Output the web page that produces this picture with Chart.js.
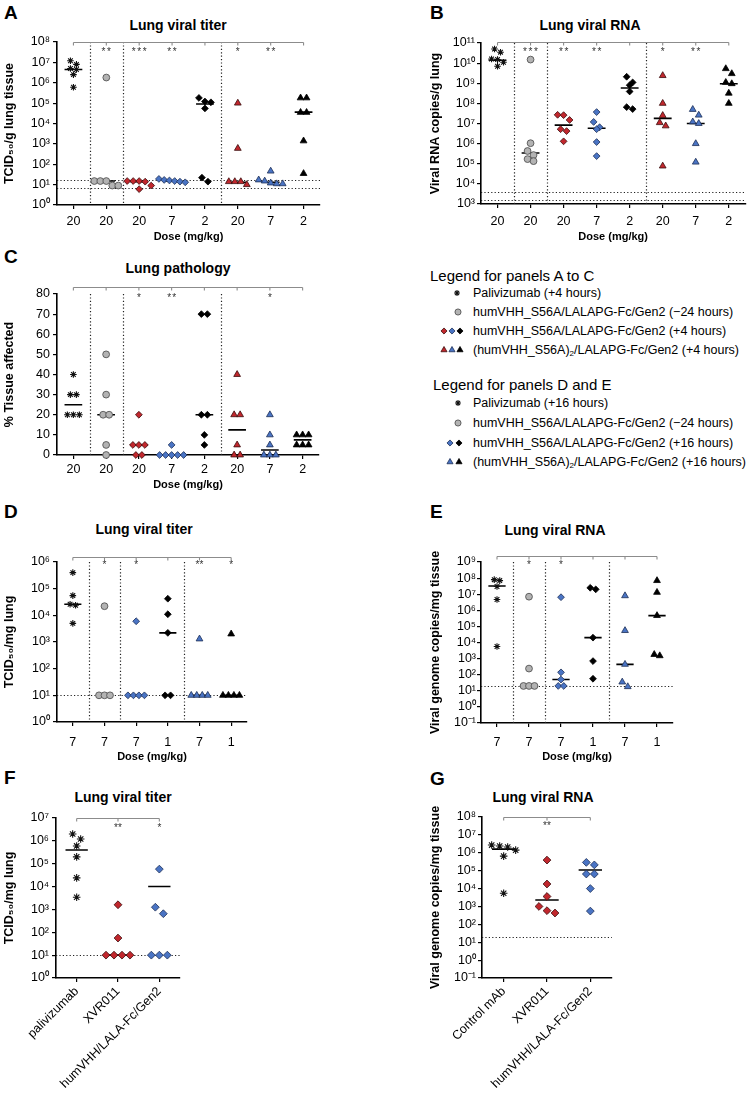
<!DOCTYPE html>
<html>
<head>
<meta charset="utf-8">
<script src="https://cdn.jsdelivr.net/npm/chart.js@4.4.1/dist/chart.umd.min.js"></script>
<style>
body{margin:0;background:#fff;width:750px;height:1093px;position:relative;overflow:hidden;font-family:"Liberation Sans",Arial,sans-serif;color:#000}
canvas{position:absolute}
.t{position:absolute;line-height:1;white-space:nowrap;transform:translateY(-50%)}
.c{transform:translate(-50%,-50%)}
.letter{font-weight:bold;font-size:19px}
.title{font-weight:bold;font-size:14px}
.lh{font-size:15px}
.lg{font-size:12.5px}
sub{font-size:8px;line-height:0;vertical-align:-2px}
#lgd{position:absolute;left:0;top:0}
</style>
</head>
<body>
<div class="t letter" style="left:4px;top:12px">A</div>
<div class="t letter" style="left:430px;top:12px">B</div>
<div class="t letter" style="left:4px;top:256px">C</div>
<div class="t letter" style="left:4px;top:511px">D</div>
<div class="t letter" style="left:430px;top:511px">E</div>
<div class="t letter" style="left:4px;top:777px">F</div>
<div class="t letter" style="left:430px;top:778px">G</div>

<div class="t title c" style="left:178px;top:25px">Lung viral titer</div>
<div class="t title c" style="left:590px;top:25px">Lung viral RNA</div>
<div class="t title c" style="left:178px;top:268px">Lung pathology</div>
<div class="t title c" style="left:144px;top:529px">Lung viral titer</div>
<div class="t title c" style="left:555px;top:530px">Lung viral RNA</div>
<div class="t title c" style="left:123px;top:797px">Lung viral titer</div>
<div class="t title c" style="left:543px;top:797px">Lung viral RNA</div>

<div class="t lh" style="left:430px;top:275px">Legend for panels A to C</div>
<div class="t lg" style="left:473px;top:293px">Palivizumab (+4 hours)</div>
<div class="t lg" style="left:473px;top:312px">humVHH_S56A/LALAPG-Fc/Gen2 (−24 hours)</div>
<div class="t lg" style="left:473px;top:331px">humVHH_S56A/LALAPG-Fc/Gen2 (+4 hours)</div>
<div class="t lg" style="left:473px;top:350px">(humVHH_S56A)<sub>2</sub>/LALAPG-Fc/Gen2 (+4 hours)</div>
<div class="t lh" style="left:433px;top:384px">Legend for panels D and E</div>
<div class="t lg" style="left:473px;top:403px">Palivizumab (+16 hours)</div>
<div class="t lg" style="left:473px;top:423px">humVHH_S56A/LALAPG-Fc/Gen2 (−24 hours)</div>
<div class="t lg" style="left:473px;top:443px">humVHH_S56A/LALAPG-Fc/Gen2 (+16 hours)</div>
<div class="t lg" style="left:473px;top:462px">(humVHH_S56A)<sub>2</sub>/LALAPG-Fc/Gen2 (+16 hours)</div>
<svg id="lgd" width="750" height="500"></svg>

<script>
// ---- categories / tick labels
const DOSES_AC = ["20","20","20","7","2","20","7","2"];
const DOSES_DE = ["7","7","7","1","7","1"];
const GROUPS_F = ["palivizumab","XVR011","humVHH/LALA-Fc/Gen2"];
const GROUPS_G = ["Control mAb","XVR011","humVHH/LALA-Fc/Gen2"];

// marker kind per group
const MARKERS_AC = ["pali","pre","dRed","dBlue","dBlack","tRed","tBlue","tBlack"];
const MARKERS_DE = ["pali","pre","dBlue","dBlack","tBlue","tBlack"];
const MARKERS_FG = ["pali","dRed","dBlue"];

// ---- A: lung viral titer (TCID50/g)
const A_values = [
  [1.2e7, 8e6, 5e6, 4.5e6, 2.5e6, 6e5],
  [1.8e6, 15, 15, 15, 9, 9],
  [15, 15, 15, 14, 9, 6],
  [19, 17, 16, 15, 14, 13],
  [1.8e5, 1.2e5, 1.1e5, 5.5e4, 22, 14],
  [1e5, 600, 14, 14, 14, 10],
  [46, 17, 15, 12, 11, 11],
  [1.8e5, 1.8e5, 3.5e4, 3.5e4, 1.4e3, 35]
];
const A_medians = [4.5e6, 15, 14, 15, 9e4, 13, 13, 3.6e4];
const A_stars = ["", "**", "***", "**", "", "*", "**", ""];
const A_lod = [17, 7];
const A_breaks = [0, 1, 4];

// ---- B: lung viral RNA (copies/g)
const B_values = [
  [5e10, 3.5e10, 1.6e10, 1.5e10, 1.1e10, 7e9],
  [1.5e10, 1.05e6, 4.3e5, 2.7e5, 1.7e5, 1.35e5],
  [2.7e7, 2.6e7, 1.5e7, 5.2e6, 4.2e6, 1.3e6],
  [3.7e7, 1.2e7, 6.5e6, 5.2e6, 1.2e6, 2.4e5],
  [2.1e9, 1.1e9, 8e8, 3.9e8, 6.5e7, 5.2e7],
  [2.4e9, 1e8, 2.5e7, 1.1e7, 7.6e6, 7.7e4],
  [5e7, 2.6e7, 1.2e7, 1e7, 1e6, 1.2e5],
  [5.3e9, 3e9, 1.1e9, 9.5e8, 3.2e8, 1e8]
];
const B_medians = [1.4e10, 3.4e5, 8.3e6, 5.8e6, 5.8e8, 1.8e7, 1e7, 9.4e8];
const B_stars = ["", "***", "**", "**", "", "*", "**", ""];
const B_lod = [4.1e3, 1.6e3];
const B_breaks = [0, 1, 4];

// ---- C: lung pathology (% tissue affected)
const C_values = [
  [40, 30, 30, 20, 20, 20],
  [50, 30, 20, 20, 5, 0],
  [20, 5, 5, 5, 0, 0],
  [5, 0, 0, 0, 0, 0],
  [70, 70, 20, 20, 10, 5],
  [40, 20, 20, 5, 0, 0],
  [20, 10, 5, 0, 0, 0],
  [10, 10, 10, 5, 5, 5]
];
const C_medians = [25, 20, 5, 0, 20, 12.5, 2.5, 7.5];
const C_stars = ["", "", "*", "**", "", "", "*", ""];
const C_lod = [];
const C_breaks = [0, 1, 4];

// ---- D: lung viral titer (TCID50/mg)
const D_values = [
  [4e5, 5.5e4, 2.6e4, 2.4e4, 5e3],
  [2.2e4, 10, 10, 10],
  [6e3, 10, 10, 10, 10],
  [4.2e4, 1.1e4, 2.2e3, 10, 10],
  [1.3e3, 10, 10, 10, 10],
  [2e3, 10, 10, 10, 10]
];
const D_medians = [2.6e4, 10, 10, 2.2e3, 10, 10];
const D_stars = ["", "*", "*", "", "**", "*"];
const D_lod = [10];
const D_breaks = [0, 1, 3];

// ---- E: lung viral RNA (copies/mg)
const E_values = [
  [8e7, 7e7, 3e7, 4.7e6, 5.6e3],
  [7e6, 240, 20, 20, 20],
  [6.5e6, 140, 50, 20, 20],
  [2.5e7, 2e7, 2e4, 700, 56],
  [8e6, 5.5e4, 440, 35, 18],
  [7e7, 1.3e7, 4.7e5, 1.8e3, 1.5e3]
];
const E_medians = [3.2e7, 20, 50, 2e4, 440, 4.7e5];
const E_stars = ["", "*", "*", "", "", ""];
const E_lod = [20];
const E_breaks = [0, 1, 3];

// ---- F: lung viral titer
const F_values = [
  [2e6, 1.2e6, 6e5, 2e5, 2.4e4, 3.4e3],
  [1.6e3, 56, 10, 10, 10, 10],
  [5.8e4, 1.25e3, 650, 10, 10, 10]
];
const F_medians = [4e5, 10, 1e4];
const F_stars = ["", "**", "*"];
const F_lod = [10];

// ---- G: lung viral RNA
const G_values = [
  [2.7e6, 2.4e6, 2.1e6, 1.4e6, 6.5e5, 5.5e3],
  [3.9e5, 1.8e4, 3.6e3, 1e3, 580, 430],
  [2.9e5, 2.1e5, 6.5e4, 6.5e4, 1e4, 550]
];
const G_medians = [1.6e6, 2.3e3, 1.1e5];
const G_stars = ["", "**", ""];
const G_lod = [20];

// ---- styles
const RED = "#c1272d", BLUE = "#4a74c4", BLACK = "#000", GREY = "#b3b3b3";
const STYLE = {
  pali:   {shape:"star",     r:3.3, fill:BLACK, line:"#111",    bw:1.1},
  pre:    {shape:"circle",   r:3.4, fill:GREY,  line:"#555",    bw:0.9},
  dRed:   {shape:"rectRot",  r:3.4, fill:RED,   line:"#3a0d0d", bw:0.8},
  dBlue:  {shape:"rectRot",  r:3.4, fill:BLUE,  line:"#1d2f55", bw:0.8},
  dBlack: {shape:"rectRot",  r:3.4, fill:BLACK, line:BLACK,     bw:0.8},
  tRed:   {shape:"triangle", r:3.9, fill:RED,   line:"#3a0d0d", bw:0.8},
  tBlue:  {shape:"triangle", r:3.9, fill:BLUE,  line:"#1d2f55", bw:0.8},
  tBlack: {shape:"triangle", r:3.9, fill:BLACK, line:BLACK,     bw:0.8}
};
const FONT = '"Liberation Sans", Arial, sans-serif';
const TICK_LEN = 4;

const SUP = {"-":"⁻","0":"⁰","1":"¹","2":"²","3":"³","4":"⁴","5":"⁵","6":"⁶","7":"⁷","8":"⁸","9":"⁹"};
const sup = e => String(e).split("").map(c => SUP[c]).join("");

// spread points of one group sideways in rows (prism-like scatter)
function swarm(vals, pxPerUnit, isLog, stepPx, catPx){
  const pos = v => (isLog ? Math.log10(v) : v) * pxPerUnit;
  const order = vals.map((v,i)=>i).sort((a,b)=>vals[b]-vals[a]);
  const rows = [];
  order.forEach(i=>{
    const r = rows[rows.length-1];
    if(r && pos(vals[r[0]]) - pos(vals[i]) < stepPx) r.push(i); else rows.push([i]);
  });
  const off = new Array(vals.length).fill(0);
  rows.forEach(r=>{
    let s = stepPx;
    if((r.length-1)*s > catPx*0.8) s = catPx*0.8/(r.length-1);
    r.forEach((i,j)=>{ off[i] = (j-(r.length-1)/2)*s/catPx; });
  });
  return off;
}

const deco = {
  id: "deco",
  beforeDatasetsDraw(chart, args, o){
    const {ctx, chartArea:a, scales:{x, y}} = chart;
    ctx.save();
    ctx.strokeStyle = "#222"; ctx.lineWidth = 1.2; ctx.setLineDash([1.2, 2.2]);
    ctx.beginPath();
    o.breaks.forEach(i=>{
      const px = Math.round(x.getPixelForValue(i+0.5)) + 0.5;
      ctx.moveTo(px, a.top); ctx.lineTo(px, a.bottom);
    });
    o.lod.forEach(v=>{
      const py = Math.round(y.getPixelForValue(v)) + 0.5;
      ctx.moveTo(a.left, py); ctx.lineTo(a.right, py);
    });
    ctx.stroke();
    ctx.setLineDash([]);
    const half = (x.getPixelForValue(1) - x.getPixelForValue(0)) * o.medianHalf;
    ctx.strokeStyle = "#000"; ctx.lineWidth = 1.6;
    ctx.beginPath();
    o.medians.forEach((m,i)=>{
      if(m == null) return;
      const px = x.getPixelForValue(i), py = y.getPixelForValue(m);
      ctx.moveTo(px-half, py); ctx.lineTo(px+half, py);
    });
    ctx.stroke();
    ctx.restore();
  },
  afterDraw(chart, args, o){
    const {ctx, chartArea:a, scales:{x}} = chart;
    const n = o.stars.length;
    const by = a.top - o.bracketGap + 0.5;
    ctx.save();
    ctx.strokeStyle = "#8c8c8c"; ctx.lineWidth = 1.1;
    ctx.beginPath();
    ctx.moveTo(x.getPixelForValue(0), by); ctx.lineTo(x.getPixelForValue(n-1), by);
    for(let i=0;i<n;i++){ const px = x.getPixelForValue(i); ctx.moveTo(px, by); ctx.lineTo(px, by+3); }
    ctx.stroke();
    ctx.fillStyle = "#333"; ctx.font = "10px " + FONT; ctx.textAlign = "center"; ctx.textBaseline = "alphabetic";
    o.stars.forEach((s,i)=>{
      const cx = x.getPixelForValue(i);
      for(let k=0;k<s.length;k++){
        ctx.fillText("*", cx + (k-(s.length-1)/2)*o.starSpace, by + o.starGap + 5.5);
      }
    });
    ctx.restore();
  }
};
Chart.register(deco);

const PANELS = [
  {box:{x:0,y:0,w:345,h:250}, area:{l:57,t:42,r:320,b:205}, labels:DOSES_AC, markers:MARKERS_AC,
   values:A_values, medians:A_medians, stars:A_stars, lod:A_lod, breaks:A_breaks,
   log:true, lo:0, hi:8, yTitle:"TCID₅₀/g lung tissue", xTitle:"Dose (mg/kg)",
   yTitleX:10, yLabelRight:50, xLabelY:222, xTitleY:237, rot:0, step:6, bracketGap:0, starGap:7, starSpace:5.5},
  {box:{x:420,y:0,w:330,h:250}, area:{l:481,t:43,r:746,b:204}, labels:DOSES_AC, markers:MARKERS_AC,
   values:B_values, medians:B_medians, stars:B_stars, lod:B_lod, breaks:B_breaks,
   log:true, lo:3, hi:11, yTitle:"Viral RNA copies/g lung", xTitle:"Dose (mg/kg)",
   yTitleX:436, yLabelRight:475, xLabelY:222, xTitleY:237, rot:0, step:6, bracketGap:1, starGap:7, starSpace:5.5},
  {box:{x:0,y:250,w:345,h:245}, area:{l:57,t:294,r:319,b:455}, labels:DOSES_AC, markers:MARKERS_AC,
   values:C_values, medians:C_medians, stars:C_stars, lod:C_lod, breaks:C_breaks,
   log:false, min:0, max:80, yStep:10, yTitle:"% Tissue affected", xTitle:"Dose (mg/kg)",
   yTitleX:10, yLabelRight:50, xLabelY:470, xTitleY:485, rot:0, step:6, bracketGap:7, starGap:8, starSpace:5},
  {box:{x:0,y:495,w:300,h:270}, area:{l:57,t:562,r:247,b:722}, labels:DOSES_DE, markers:MARKERS_DE,
   values:D_values, medians:D_medians, stars:D_stars, lod:D_lod, breaks:D_breaks,
   log:true, lo:0, hi:6, yTitle:"TCID₅₀/mg lung", xTitle:"Dose (mg/kg)",
   yTitleX:10, yLabelRight:50, xLabelY:743, xTitleY:757, rot:0, step:5.5, bracketGap:5, starGap:5, starSpace:4},
  {box:{x:420,y:495,w:300,h:270}, area:{l:481,t:562,r:673,b:723}, labels:DOSES_DE, markers:MARKERS_DE,
   values:E_values, medians:E_medians, stars:E_stars, lod:E_lod, breaks:E_breaks,
   log:true, lo:-1, hi:9, yTitle:"Viral genome copies/mg tissue", xTitle:"Dose (mg/kg)",
   yTitleX:436, yLabelRight:476, xLabelY:743, xTitleY:757, rot:0, step:5.5, bracketGap:6, starGap:6, starSpace:4},
  {box:{x:0,y:770,w:250,h:323}, area:{l:56,t:818,r:180,b:978}, labels:GROUPS_F, markers:MARKERS_FG,
   values:F_values, medians:F_medians, stars:F_stars, lod:F_lod, breaks:[],
   log:true, lo:0, hi:7, yTitle:"TCID₅₀/mg lung", xTitle:"",
   yTitleX:10, yLabelRight:49, xLabelY:0, xTitleY:0, rot:45, step:8, bracketGap:0, starGap:7, starSpace:4},
  {box:{x:420,y:770,w:300,h:323}, area:{l:482,t:817,r:612,b:978}, labels:GROUPS_G, markers:MARKERS_FG,
   values:G_values, medians:G_medians, stars:G_stars, lod:G_lod, breaks:[],
   log:true, lo:-1, hi:8, yTitle:"Viral genome copies/mg tissue", xTitle:"",
   yTitleX:436, yLabelRight:476, xLabelY:0, xTitleY:0, rot:45, step:8, bracketGap:0, starGap:6, starSpace:4}
];

function makePanel(p){
  const b = p.box, a = p.area, n = p.labels.length;
  const cv = document.createElement("canvas");
  cv.width = b.w; cv.height = b.h;
  cv.style.left = b.x + "px"; cv.style.top = b.y + "px";
  document.body.appendChild(cv);

  const plotH = a.b - a.t, catPx = (a.r - a.l) / n;
  const pxPerUnit = p.log ? plotH / (p.hi - p.lo) : plotH / (p.max - p.min);
  const big = p.rot ? 1.15 : 1;

  const datasets = p.values.map((vals, i)=>{
    const st = STYLE[p.markers[i]];
    const off = swarm(vals, pxPerUnit, p.log, p.step, catPx);
    return {
      data: vals.map((v,j)=>({x: i + off[j], y: v})),
      pointStyle: st.shape, pointRadius: st.r*big, pointHoverRadius: st.r*big,
      backgroundColor: st.fill, borderColor: st.line, borderWidth: st.bw,
      showLine: false, clip: false
    };
  });

  const tickFont = {family: FONT, size: 12.5};
  const axisCommon = {
    grid: {display:true, drawOnChartArea:false, drawTicks:true, tickLength:TICK_LEN, color:"#000", lineWidth:1.2},
    border: {display:true, color:"#000", width:1.6}
  };

  const yScale = Object.assign({}, axisCommon, p.log ? {
    type: "logarithmic", min: Math.pow(10, p.lo), max: Math.pow(10, p.hi),
    afterBuildTicks: s => { const t = []; for(let e=p.lo;e<=p.hi;e++) t.push({value: Math.pow(10, e)}); s.ticks = t; },
    ticks: {font: tickFont, color:"#000", autoSkip:false, padding: a.l - TICK_LEN - p.yLabelRight,
            callback: v => "10" + sup(Math.round(Math.log10(v)))}
  } : {
    type: "linear", min: p.min, max: p.max,
    ticks: {font: tickFont, color:"#000", autoSkip:false, stepSize: p.yStep, padding: a.l - TICK_LEN - p.yLabelRight}
  });
  yScale.afterFit = s => { s.width = a.l - b.x; };
  yScale.title = {display:true, text:p.yTitle, color:"#000",
    font:{family:FONT, size:12.5, weight:"bold"}, padding:{top: p.yTitleX - b.x - 7.5, bottom:0}};

  const xScale = Object.assign({}, axisCommon, {
    type: "linear", min: -0.5, max: n - 0.5,
    afterBuildTicks: s => { s.ticks = p.labels.map((_, i)=>({value:i})); },
    afterFit: s => { s.height = b.y + b.h - a.b; },
    ticks: {font: tickFont, color:"#000", autoSkip:false,
            maxRotation: p.rot, minRotation: p.rot,
            padding: p.rot ? 2 : p.xLabelY - a.b - TICK_LEN - 7.5,
            callback: v => p.labels[Math.round(v)]},
    title: {display: !!p.xTitle, text: p.xTitle, color:"#000",
            font:{family:FONT, size:11, weight:"bold"},
            padding:{top:0, bottom: b.y + b.h - p.xTitleY - 6.6}}
  });

  new Chart(cv, {
    type: "scatter",
    data: {datasets},
    options: {
      responsive: false, animation: false, events: [],
      layout: {padding: {left:0, top: a.t - b.y, right: b.x + b.w - a.r, bottom:0}},
      scales: {x: xScale, y: yScale},
      plugins: {
        legend: {display:false}, tooltip: {enabled:false},
        deco: {breaks:p.breaks, lod:p.lod, medians:p.medians, stars:p.stars,
               medianHalf:0.27, bracketGap:p.bracketGap, starGap:p.starGap, starSpace:p.starSpace}
      }
    }
  });
}

PANELS.forEach(makePanel);

// legend markers
const NS = "http://www.w3.org/2000/svg";
const svg = document.getElementById("lgd");
function legendMarker(kind, cx, cy){
  const st = STYLE[kind], r = st.r * 0.9;
  let el;
  if(st.shape === "circle"){
    el = document.createElementNS(NS, "circle");
    el.setAttribute("cx", cx); el.setAttribute("cy", cy); el.setAttribute("r", r);
  } else if(st.shape === "rectRot"){
    el = document.createElementNS(NS, "polygon");
    el.setAttribute("points", `${cx},${cy-r} ${cx+r},${cy} ${cx},${cy+r} ${cx-r},${cy}`);
  } else if(st.shape === "triangle"){
    el = document.createElementNS(NS, "polygon");
    const h = r*Math.sqrt(3)/2;
    el.setAttribute("points", `${cx},${cy-r} ${cx+h},${cy+r/2} ${cx-h},${cy+r/2}`);
  } else {
    el = document.createElementNS(NS, "path");
    let d = "";
    for(let k=0;k<4;k++){
      const ang = k*Math.PI/4;
      d += `M${cx+Math.cos(ang)*r},${cy+Math.sin(ang)*r}L${cx-Math.cos(ang)*r},${cy-Math.sin(ang)*r}`;
    }
    el.setAttribute("d", d);
  }
  el.setAttribute("fill", st.shape === "star" ? "none" : st.fill);
  el.setAttribute("stroke", st.line);
  el.setAttribute("stroke-width", st.bw);
  svg.appendChild(el);
}
legendMarker("pali", 457, 293);
legendMarker("pre", 458, 312);
["dRed","dBlue","dBlack"].forEach((k,i)=>legendMarker(k, 444 + i*8, 331));
["tRed","tBlue","tBlack"].forEach((k,i)=>legendMarker(k, 444 + i*8, 350));
legendMarker("pali", 458, 403);
legendMarker("pre", 458, 423);
["dBlue","dBlack"].forEach((k,i)=>legendMarker(k, 450 + i*9, 443));
["tBlue","tBlack"].forEach((k,i)=>legendMarker(k, 450 + i*9, 462));
</script>
</body>
</html>
